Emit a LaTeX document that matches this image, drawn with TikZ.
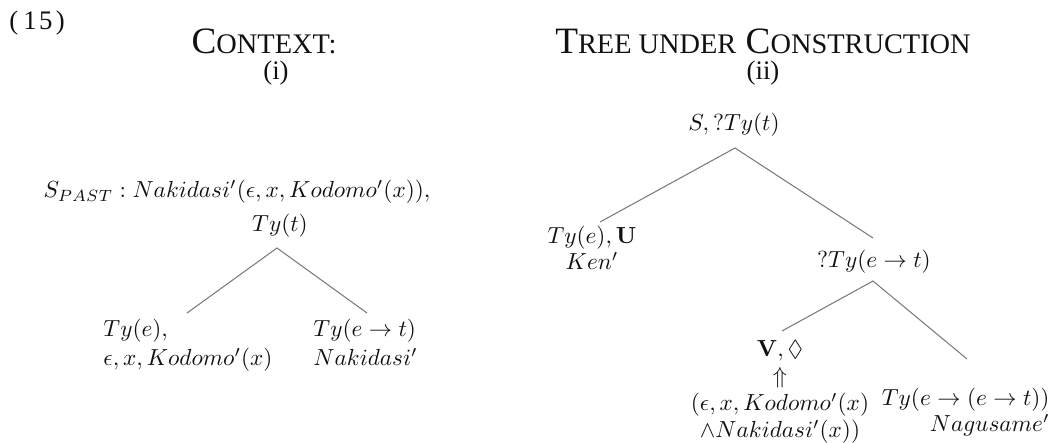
\documentclass[tikz,border=0pt]{standalone}
\usepackage[no-math]{fontspec}
\setmainfont{Liberation Serif}
\usepackage{amsmath,amssymb}
\usetikzlibrary{positioning}
\definecolor{branch}{HTML}{7A7A7A}
\definecolor{textdark}{HTML}{111111}
\newcommand{\capsc}[2]{#1{\fontsize{12.2}{14}\selectfont #2}}

\tikzset{
  heading/.style={inner sep=0pt,anchor=base,text=textdark,font=\fontsize{16}{18}\selectfont},
  number/.style={inner sep=0pt,anchor=base,text=textdark,font=\fontsize{11.5}{13}\selectfont},
  label/.style={inner sep=0pt,text=textdark,align=center},
  leaf/.style={inner sep=0pt,text=textdark,align=left,font=\fontsize{10}{12.4}\selectfont},
  branchline/.style={draw=branch,line width=0.45pt}
}

\begin{document}
\begin{tikzpicture}[x=0.43pt,y=-0.43pt]
  \useasboundingbox (0,0) rectangle (1059,442);
  \node[number,anchor=base west] (exnum) at (9,29) {(\kern2.2pt1\kern1pt5\kern1.4pt)};

  % context tree
  \node[heading] (ctxhead) at (264,53) {\capsc{C}{ONTEXT:}};
  \node[number] (ctxnum) at (276,79) {(i)};
  \node[label] (ctxroot) at (237,192) {$S_{PAST}: Nakidasi'(\epsilon,x,Kodomo'(x)),$};
  \node[label] (ctxtype) at (280,226) {$Ty(t)$};
  \coordinate (ctxtop) at (277,248);
  \coordinate (ctxl) at (187,313);
  \coordinate (ctxr) at (367,313);
  \node[leaf,anchor=north west] (ctxarg) at (103,319) {$Ty(e),$\\$\epsilon,x,Kodomo'(x)$};
  \node[leaf,anchor=north west] (ctxfun) at (313,319) {$Ty(e\rightarrow t)$\\$Nakidasi'$};
  \draw[branchline] (ctxl) -- (ctxtop) -- (ctxr);

  % tree under construction
  \node[heading] (treehead) at (763,53) {\capsc{T}{REE UNDER} \capsc{C}{ONSTRUCTION}};
  \node[number] (treenum) at (763,79) {(ii)};
  \node[label] (treeroot) at (734,125) {$S,?Ty(t)$};
  \coordinate (treetop) at (735,148);
  \coordinate (treel) at (600,222);
  \coordinate (treer) at (873,238);
  \node[label,anchor=north,font=\fontsize{10}{9.8}\selectfont] (subj) at (592,226) {$Ty(e),\mathbf{U}$\\$Ken'$};
  \node[label] (pred) at (874,262) {$?Ty(e\rightarrow t)$};
  \coordinate (predtop) at (873,281);
  \coordinate (predl) at (782,331);
  \coordinate (predr) at (967,359);
  \node[label,anchor=north,font=\fontsize{10}{11.6}\selectfont] (obj) at (780,340) {$\mathbf{V},\Diamond$\\$\Uparrow$\\$(\epsilon,x,Kodomo'(x)$\\$\wedge Nakidasi'(x))$};
  \node[label,anchor=north east,align=right,font=\fontsize{10}{11}\selectfont] (verb) at (1050,388) {$Ty(e\rightarrow(e\rightarrow t))$\\$Nagusame'$};
  \draw[branchline] (treel) -- (treetop) -- (treer);
  \draw[branchline] (predl) -- (predtop) -- (predr);
\end{tikzpicture}
\end{document}
